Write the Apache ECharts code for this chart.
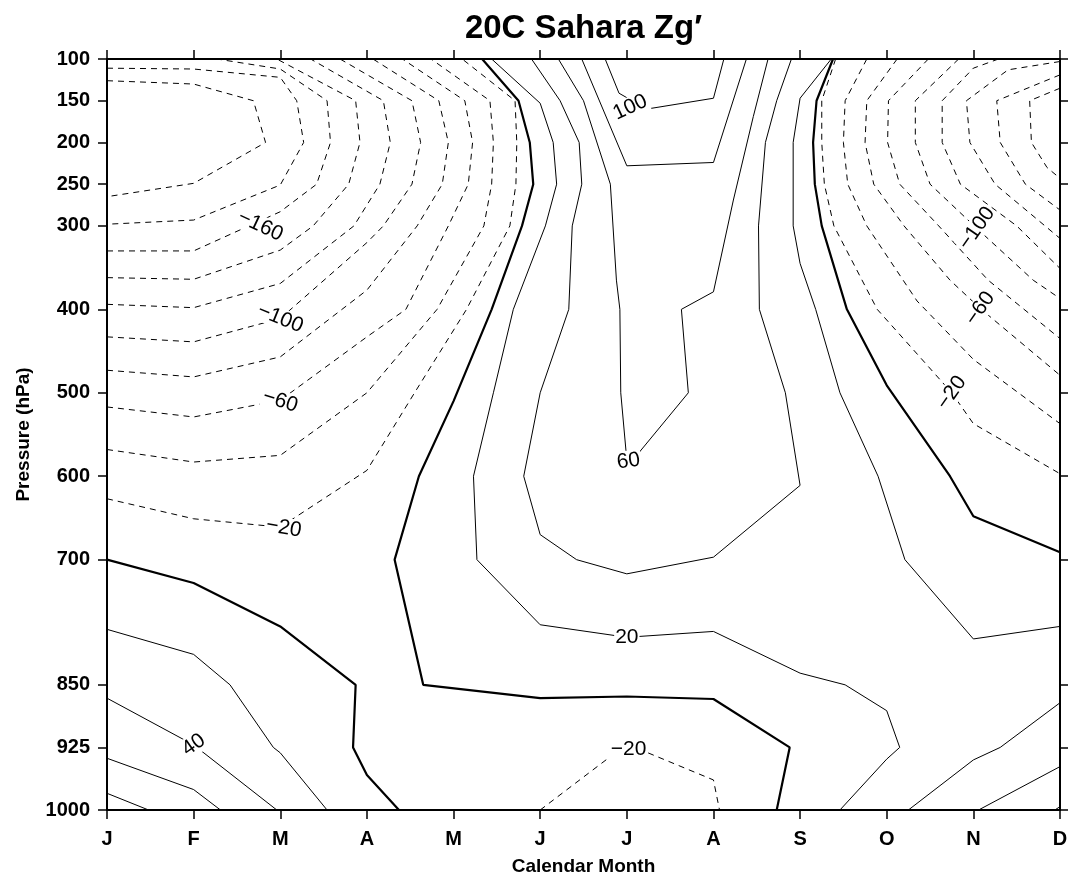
<!DOCTYPE html>
<html><head><meta charset="utf-8">
<script src="https://cdn.jsdelivr.net/npm/echarts@6/dist/echarts.min.js"></script>
<style>html,body{margin:0;padding:0;background:#fff}#c{width:1068px;height:878px}</style>
</head><body><div id="c"></div>
<script>
// ---- axes ----
const months = ['J','F','M','A','M','J','J','A','S','O','N','D'];
const pressureTicks = [100,150,200,250,300,400,500,600,700,850,925,1000];

// ---- contour lines: [monthIndex, pressure hPa] ----
// negative contours, upper left
const negL200 = [[0,126],[1,130],[1.69,150],[1.83,200],[1,249],[0,265]];
const negL180 = [[0,111],[1,112],[2,122],[2.19,150],[2.27,200],[2,251],[1,293],[0,298]];
const negL160 = [[0,330],[1,330],[2,283],[2.42,250],[2.58,200],[2.54,150],[2,112],[1.27,100]];
const negL140 = [[0,362],[1,364],[2,329],[2.38,300],[2.79,250],[2.92,200],[2.87,150],[1.96,100]];
const negL120 = [[0,394],[1,398],[2,369],[2.85,300],[3.15,250],[3.27,200],[3.19,150],[2.35,100]];
const negL100 = [[0,433],[1,439],[2,411],[3,320],[3.19,300],[3.52,250],[3.62,200],[3.52,150],[2.69,100]];
const negL80  = [[0,473],[1,481],[2,457],[3,377],[3.58,300],[3.87,250],[3.94,200],[3.83,150],[3.07,100]];
const negL60  = [[0,517],[1,529],[2,509],[3,433],[3.45,400],[3.94,300],[4.17,250],[4.22,200],[4.13,150],[3.41,100]];
const negL40  = [[0,568],[1,583],[2,575],[3,500],[3.81,400],[4.35,300],[4.44,250],[4.46,200],[4.42,150],[3.74,100]];
const negL20  = [[0,627],[1,651],[2,661],[3,593],[3.55,500],[4.15,400],[4.65,300],[4.72,250],[4.73,200],[4.71,150],[4.10,100]];
// negative contours, upper right
const negR20  = [[8.41,100],[8.25,150],[8.25,200],[8.28,250],[8.39,300],[8.89,400],[9.45,465],[9.75,500],[10,537],[11,597]];
const negR40  = [[8.77,100],[8.52,150],[8.50,200],[8.55,250],[8.77,300],[9.35,390],[10,460],[11,537]];
const negR60  = [[9.12,100],[8.77,150],[8.75,200],[8.85,250],[9.2,300],[9.73,365],[10.08,399],[11,479]];
const negR80  = [[9.48,100],[9.02,150],[9.01,200],[9.15,250],[9.6,300],[10.17,365],[11,435]];
const negR100 = [[9.83,100],[9.33,150],[9.33,200],[9.5,250],[10.04,303],[10.69,365],[11,387]];
const negR120 = [[10.29,100],[10.0,111],[9.64,150],[9.64,200],[9.85,250],[10.5,300],[11,351]];
const negR140 = [[11,103],[10.4,113],[9.92,150],[9.96,200],[10.25,250],[11,315]];
const negR160 = [[11,119],[10.27,150],[10.31,200],[10.6,250],[11,281]];
const negR180 = [[11,135],[10.65,150],[10.67,200],[10.85,230],[11,243]];
// negative contour near the surface
const negB20  = [[5,1000],[6,921],[7,964],[7.07,1000]];
// zero contours
const zeroMid   = [[4.33,100],[4.75,150],[4.88,200],[4.92,250],[4.79,300],[4.44,400],[4.0,510],[3.6,600],[3.32,700],[3.65,850],[5,866],[6,864],[7,867],[7.88,925],[7.73,1000]];
const zeroLeft  = [[0,700],[1,728],[2,780],[2.87,850],[2.84,925],[3,958],[3.37,1000]];
const zeroRight = [[8.38,100],[8.19,150],[8.15,200],[8.17,250],[8.25,300],[8.54,400],[9,491],[9.73,600],[10,648],[11,691]];
// positive contours
const pos20Mid   = [[4.44,100],[5,153],[5.15,200],[5.19,250],[5.06,300],[4.69,400],[4.46,500],[4.23,600],[4.27,700],[5,778],[6,793],[7,786],[8,836],[8.52,850],[9,881],[9.15,925],[9,939],[8.46,1000]];
const pos20Right = [[8.36,100],[8.0,147],[7.92,200],[7.92,300],[8.0,345],[8.18,400],[8.46,500],[8.90,600],[9.21,700],[10,795],[11,780]];
const pos40Mid   = [[4.90,100],[5.23,150],[5.45,200],[5.48,250],[5.37,300],[5.33,400],[5.0,500],[4.81,600],[5,670],[5.42,700],[6,717],[7,697],[8,611],[7.83,500],[7.53,400],[7.52,300],[7.60,200],[7.73,150],[7.90,100]];
const pos60Mid   = [[5.21,100],[5.5,150],[5.81,250],[5.88,365],[5.92,400],[5.93,500],[5.99,569],[6.05,583],[6.13,573],[6.71,500],[6.63,400],[7.0,379],[7.23,269],[7.46,169],[7.63,100]];
const pos80Mid   = [[5.48,100],[6,228],[7,224],[7.38,100]];
const pos100Mid  = [[5.75,100],[5.91,141],[6.23,160],[7,147],[7.12,100]];
const pos20BL = [[0,783.5],[1,813.5],[1.42,850],[1.92,925],[2,931.5],[2.54,1000]];
const pos40BL = [[0,866],[1,922],[1.96,1000]];
const pos60BL = [[0,938],[1,975.5],[1.31,1000]];
const pos80BL = [[0,980],[0.48,1000]];
const pos40BR = [[9.25,1000],[10,940],[10.31,925],[11,871.5]];
const pos60BR = [[10.06,1000],[11,948]];
const pos80BR = [[10.94,1000],[11,996]];

const contours = [
  [-200,negL200],[-180,negL180],[-160,negL160],[-140,negL140],[-120,negL120],[-100,negL100],
  [-80,negL80],[-60,negL60],[-40,negL40],[-20,negL20],
  [-20,negR20],[-40,negR40],[-60,negR60],[-80,negR80],[-100,negR100],[-120,negR120],
  [-140,negR140],[-160,negR160],[-180,negR180],[-20,negB20],
  [0,zeroMid],[0,zeroLeft],[0,zeroRight],
  [20,pos20Mid],[20,pos20Right],[40,pos40Mid],[60,pos60Mid],[80,pos80Mid],[100,pos100Mid],
  [20,pos20BL],[40,pos40BL],[60,pos60BL],[80,pos80BL],[40,pos40BR],[60,pos60BR],[80,pos80BR]
];

// contour labels
const labelText = ['\u2212160','\u2212100','\u221260','\u221220','40','100','60','20','\u221220','\u2212100','\u221260','\u221220'];
const labelAt   = [[1.77,300],[2.0,411],[2.0,510],[2.04,662],[1.0,922],[6.04,158],[6.02,582],[6.0,793],[6.02,927],[10.04,303],[10.08,399],[9.75,500]];
const labelRotate = [-25,-22,-18,-10,35,25,8,0,0,55,55,55];

const FONT = '"Liberation Sans", Arial, Helvetica, sans-serif';
const chart = echarts.init(document.getElementById('c'), null, {renderer:'canvas'});

const series = contours.map(([lv, pts]) => ({
  type:'line', data:pts, symbol:'none', silent:true, animation:false, z:2,
  lineStyle:{color:'#000', width: lv===0 ? 2.2 : 1, type: lv<0 ? [6,5] : 'solid'}
}));
series.push({
  type:'scatter', z:5, silent:true, animation:false, symbolSize:0.1,
  itemStyle:{color:'#fff', opacity:1},
  data: labelAt.map((p,i)=>({value:p, label:{formatter:labelText[i], rotate:labelRotate[i]}})),
  label:{show:true, position:'inside', fontSize:21, fontFamily:FONT, color:'#000', opacity:1,
    textBorderWidth:0, backgroundColor:'#fff', padding:[0,1]}
});

const axisLineStyle = {lineStyle:{color:'#000', width:2}};
const tickStyle = {show:true, length:9, lineStyle:{color:'#000', width:1.5}};

chart.setOption({
  animation:false,
  textStyle:{fontFamily:FONT},
  grid:{left:107, right:8, top:59, bottom:68, outerBoundsMode:'none', containLabel:false},
  graphic:[{
    type:'text', x:583.5, y:29,
    style:{text:'20C Sahara Zg\u2032', font:'bold 33px "Liberation Sans", Arial, sans-serif', fill:'#000',
      textAlign:'center', textVerticalAlign:'middle', align:'center', verticalAlign:'middle'}
  }],
  xAxis:[{
    type:'value', position:'bottom', min:0, max:11, interval:1,
    axisLine:Object.assign({onZero:false}, axisLineStyle), axisTick:tickStyle, splitLine:{show:false},
    axisLabel:{fontSize:20, fontWeight:'bold', color:'#000', margin:19, formatter:v=>months[Math.round(v)] || ''},
    name:'Calendar Month', nameLocation:'middle', nameGap:47,
    nameTextStyle:{fontSize:19, fontWeight:'bold', color:'#000'}
  },{
    type:'value', position:'top', min:0, max:11, interval:1,
    axisLine:Object.assign({onZero:false}, axisLineStyle), axisTick:tickStyle, splitLine:{show:false},
    axisLabel:{show:false}
  }],
  yAxis:[{
    type:'value', position:'left', inverse:true, min:100, max:1000,
    axisLine:Object.assign({onZero:false}, axisLineStyle),
    axisTick:Object.assign({customValues:pressureTicks}, tickStyle), splitLine:{show:false},
    axisLabel:{customValues:pressureTicks, fontSize:20, fontWeight:'bold', color:'#000', margin:17,
      formatter:v=>String(v)},
    name:'Pressure (hPa)', nameLocation:'middle', nameGap:74, nameRotate:90,
    nameTextStyle:{fontSize:19, fontWeight:'bold', color:'#000'}
  },{
    type:'value', position:'right', inverse:true, min:100, max:1000,
    axisLine:Object.assign({onZero:false}, axisLineStyle),
    axisTick:Object.assign({customValues:pressureTicks}, tickStyle), splitLine:{show:false},
    axisLabel:{show:false}
  }],
  series: series
});
</script></body></html>
